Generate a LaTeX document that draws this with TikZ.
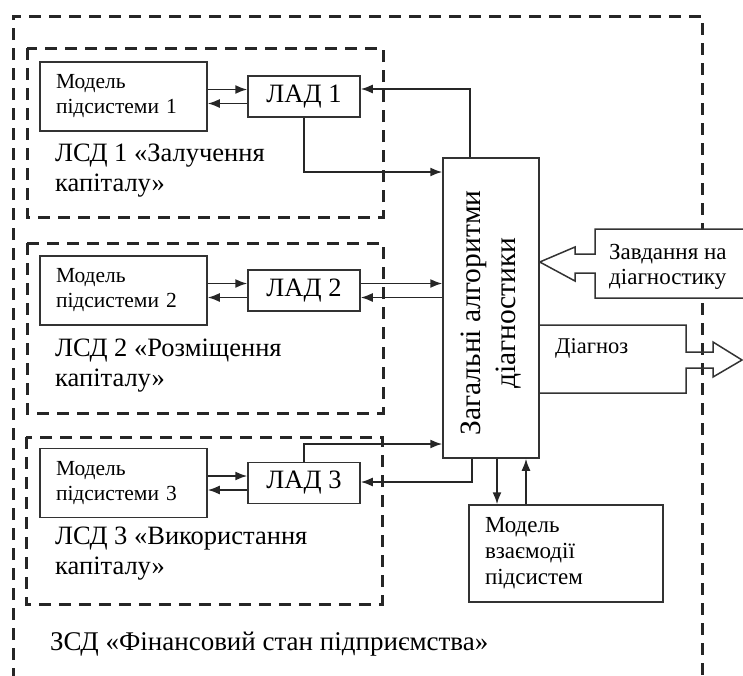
\documentclass[tikz,border=0pt]{standalone}
\usepackage{fontspec}
\setmainfont{Liberation Serif}
\usepackage{graphicx}
\usetikzlibrary{arrows.meta, positioning}

\begin{document}
\begin{tikzpicture}[x=1pt, y=-1pt,
  zone/.style={draw=black!85, line width=3pt, dash pattern=on 12pt off 8pt},
  unit/.style={draw=black!80, fill=white, line width=1.5pt, inner sep=0pt},
  model/.style={unit, minimum width=167pt, minimum height=69pt, text width=135pt,
                align=left, font=\fontsize{21.5}{25}\selectfont},
  lad/.style={unit, minimum width=112pt, minimum height=41pt,
              font=\fontsize{26.5}{30}\selectfont},
  caption/.style={anchor=north west, inner sep=0pt, align=left,
                  font=\fontsize{26.5}{30}\selectfont},
  arr/.style={draw=black!85, line width=1.6pt, -{Latex[length=12pt, width=9pt]}},
]
\useasboundingbox (0,0) rectangle (743,675);
\clip (0,0) rectangle (743,675);

% zones
\draw[zone] (13,700) -- (13,16) -- (702,16) -- (702,700);
\draw[zone] (27,48) rectangle (383,217);
\draw[zone] (27,243) rectangle (383,413);
\draw[zone] (26,437) rectangle (382,604);

% local subsystems
\node[model] (m1) at (123.5,96.5) {Модель\\підсистеми 1};
\node[model] (m2) at (123.5,290.5) {Модель\\підсистеми 2};
\node[model] (m3) at (123.5,483) {Модель\\підсистеми 3};
\node[lad] (lad1) at (304,96.5) {ЛАД 1};
\node[lad] (lad2) at (304,290.5) {ЛАД 2};
\node[lad] (lad3) at (304,483) {ЛАД 3};
\node[caption] (c1) at (55,144) {ЛСД 1 «Залучення\\капіталу»};
\node[caption] (c2) at (55,339) {ЛСД 2 «Розміщення\\капіталу»};
\node[caption] (c3) at (55,527) {ЛСД 3 «Використання\\капіталу»};

% general part
\node[unit, minimum width=96pt, minimum height=300pt] (gen) at (491,308)
  {\rotatebox{90}{\fontsize{29.5}{35}\selectfont
   \begin{tabular}{@{}c@{}}Загальні алгоритми\\діагностики\end{tabular}\hspace{10pt}}};
\node[unit, minimum width=194pt, minimum height=97pt, text width=162pt, align=left,
      font=\fontsize{23}{26}\selectfont] (vz) at (566,553.5)
  {Модель\\взаємодії\\підсистем};
\node[anchor=base west, inner sep=0pt, font=\fontsize{27}{31}\selectfont] (zsd)
  at (50,650) {ЗСД «Фінансовий стан підприємства»};

\draw[arr] ([yshift=7pt]m1.east) -- ([yshift=7pt]m1.east -| lad1.west);
\draw[arr] ([yshift=-7pt]lad1.west) -- ([yshift=-7pt]lad1.west -| m1.east);
\draw[arr] ([yshift=7pt]m2.east) -- ([yshift=7pt]m2.east -| lad2.west);
\draw[arr] ([yshift=-7pt]lad2.west) -- ([yshift=-7pt]lad2.west -| m2.east);
\draw[arr] ([yshift=7pt]m3.east) -- ([yshift=7pt]m3.east -| lad3.west);
\draw[arr] ([yshift=-7pt]lad3.west) -- ([yshift=-7pt]lad3.west -| m3.east);

\draw[arr] ([xshift=-21pt]gen.north) |- ([yshift=7.5pt]lad1.east);
\draw[arr] (lad1.south) |- (gen.west |- 0,172);
\draw[arr] ([yshift=7pt]lad2.east) -- ([yshift=7pt]lad2.east -| gen.west);
\draw[arr] ([yshift=-7pt]lad2.east -| gen.west) -- ([yshift=-7pt]lad2.east);
\draw[arr] (lad3.north) |- (gen.west |- 0,444);
\draw[arr] ([xshift=-19pt]gen.south) |- ([yshift=1pt]lad3.east);
\draw[arr] ([xshift=6pt]gen.south) -- ([xshift=6pt]gen.south |- vz.north);
\draw[arr] ([xshift=35pt]gen.south |- vz.north) -- ([xshift=35pt]gen.south);

% task and diagnosis
\draw[unit] (760,229) -- (595,229) -- (595,254) -- (575,254) -- (575,247)
  -- (gen.east |- 0,262) -- (575,281) -- (575,273) -- (595,273) -- (595,298) -- (760,298);
\node[anchor=north west, inner sep=0pt, align=left, font=\fontsize{23}{25}\selectfont]
  (task) at (609,244) {Завдання на\\діагностику};
\draw[draw=black!80, line width=1.5pt] (gen.east |- 0,325) -- (686,325) -- (686,352)
  -- (713,352) -- (713,342) -- (742,360) -- (713,377) -- (713,368) -- (686,368)
  -- (686,393) -- (gen.east |- 0,393);
\node[anchor=base west, inner sep=0pt, font=\fontsize{22.5}{26}\selectfont] (diag)
  at (555,353) {Діагноз};
\end{tikzpicture}
\end{document}
